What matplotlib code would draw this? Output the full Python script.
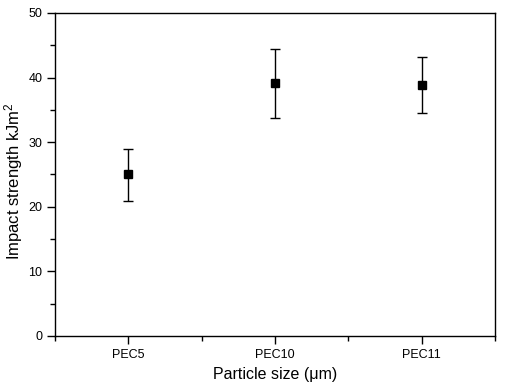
import matplotlib.pyplot as plt
from matplotlib.ticker import MultipleLocator

plt.rcParams['font.family'] = ['Liberation Sans', 'DejaVu Sans']
plt.rcParams['mathtext.fontset'] = 'custom'
plt.rcParams['mathtext.rm'] = 'Liberation Sans'
plt.rcParams['mathtext.default'] = 'regular'

samples = ['PEC5', 'PEC10', 'PEC11']
strength = [25.1, 39.2, 38.9]
err_low = [4.2, 5.5, 4.4]
err_high = [3.9, 5.3, 4.3]

fig = plt.figure(figsize=(5.06, 3.92), dpi=100)
ax = fig.add_axes([55 / 506, 1 - 336 / 392, 440 / 506, 323 / 392])

pos = [1, 2, 3]
ax.errorbar(pos, strength, yerr=[err_low, err_high], fmt='s', color='black',
            ms=6, capsize=3.5, elinewidth=1, capthick=1)

ax.set_xlim(0.5, 3.5)
ax.set_ylim(0, 50)
ax.set_xticks(pos)
ax.set_xticklabels(samples)
ax.set_xticks([0.5, 1.5, 2.5, 3.5], minor=True)
ax.yaxis.set_major_locator(MultipleLocator(10))
ax.yaxis.set_minor_locator(MultipleLocator(5))
ax.tick_params(which='major', direction='out', length=6, width=1, labelsize=9, pad=3)
ax.tick_params(which='minor', direction='out', length=3.5, width=1)
for s in ax.spines.values():
    s.set_linewidth(1)

ax.set_xlabel('Particle size (\u03bcm)', fontsize=11.5, labelpad=5)
ax.set_ylabel('Impact strength kJm$^{2}$', fontsize=12)
ax.yaxis.set_label_coords(-30 / 440, 0.48)

fig.savefig('out.png', dpi=100)
